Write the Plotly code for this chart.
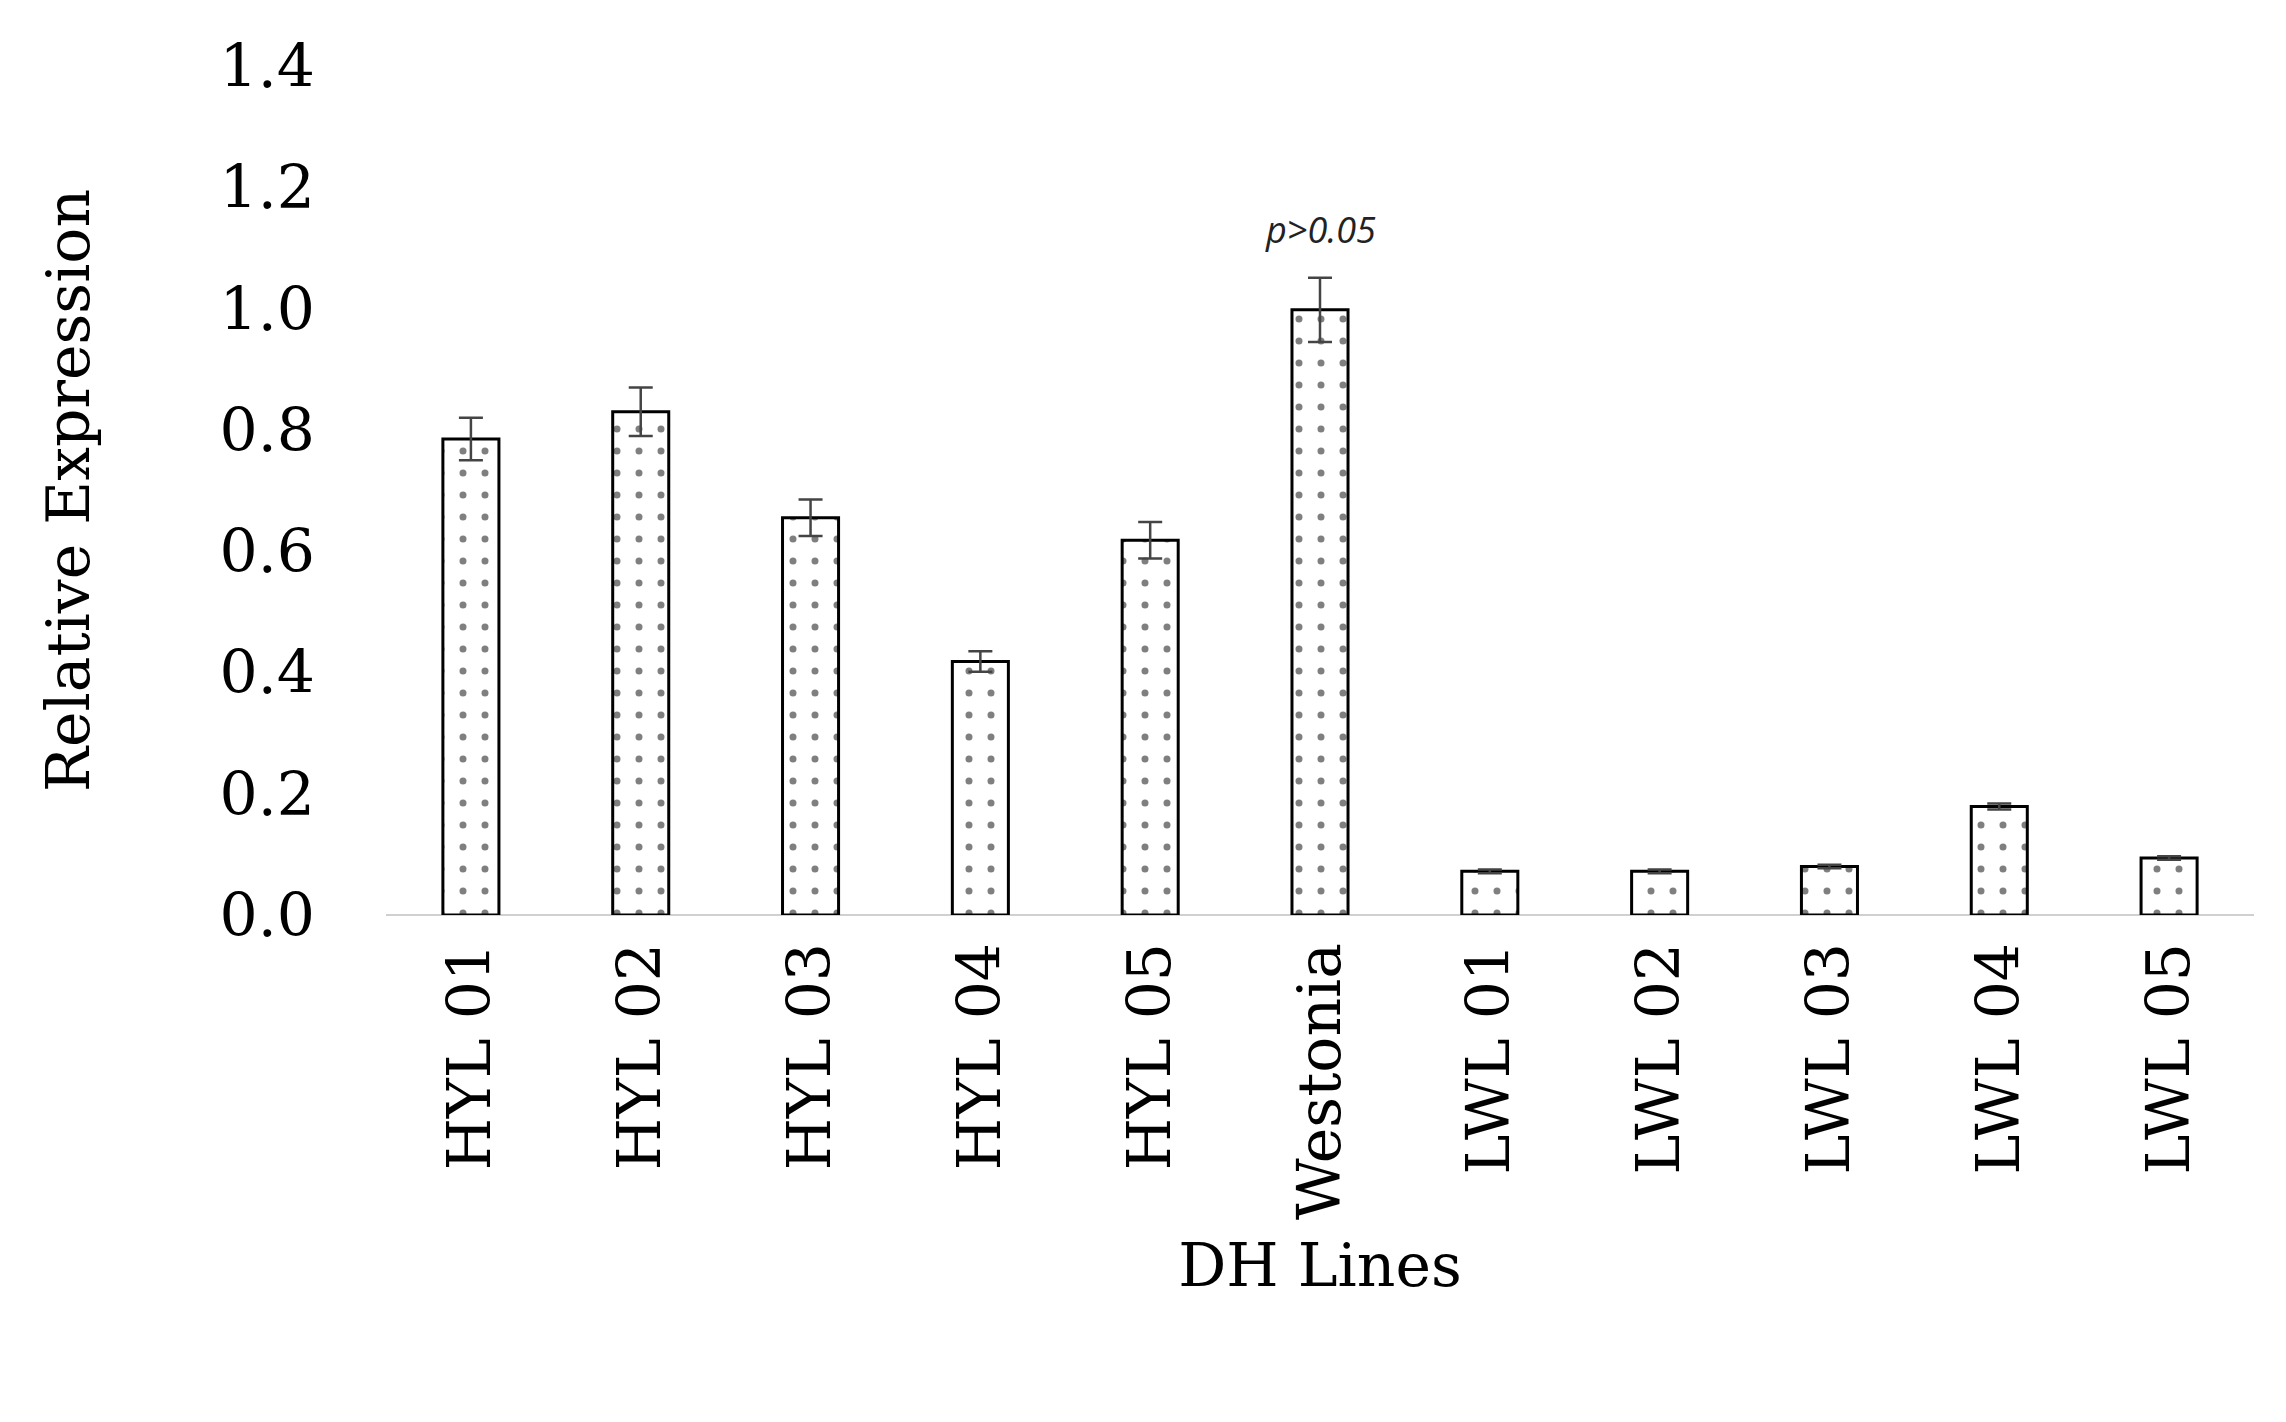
import plotly.graph_objects as go

categories = ["HYL 01","HYL 02","HYL 03","HYL 04","HYL 05","Westonia","LWL 01","LWL 02","LWL 03","LWL 04","LWL 05"]
values = [0.785, 0.83, 0.655, 0.418, 0.618, 0.998, 0.072, 0.072, 0.08, 0.179, 0.094]
errors = [0.035, 0.04, 0.03, 0.017, 0.03, 0.053, 0.003, 0.003, 0.003, 0.005, 0.003]
y_ticks = [0.0, 0.2, 0.4, 0.6, 0.8, 1.0, 1.2, 1.4]

font = "DejaVu Serif"
fig = go.Figure(go.Bar(
    x=categories, y=values,
    error_y=dict(type="data", array=errors, color="#444", thickness=2.5, width=12),
    marker=dict(color="white", line=dict(color="black", width=3),
                pattern=dict(shape=".", fgcolor="black", bgcolor="white", size=22, solidity=0.08)),
    width=0.33,
))
fig.add_annotation(x="Westonia", y=1.13, text="<i>p>0.05</i>", showarrow=False,
                   font=dict(family="Open Sans", size=36, color="#222"))
fig.update_layout(
    width=2286, height=1422, plot_bgcolor="white", paper_bgcolor="white",
    margin=dict(l=378, r=40, t=58, b=515),
    showlegend=False,
    font=dict(family=font, color="black"),
    xaxis=dict(tickangle=-90, tickfont=dict(size=60, family=font), showline=False,
               title=dict(text="DH Lines", font=dict(size=60, family=font), standoff=25),
               ticks="", ticklabelstandoff=15),
    yaxis=dict(range=[0, 1.4], tickvals=y_ticks, ticktext=[f"{v:.1f}" for v in y_ticks],
               tickfont=dict(size=60, family=font), showgrid=False, zeroline=True,
               zerolinecolor="#d0d0d0", zerolinewidth=2, ticklen=0, ticklabelstandoff=70,
               title=dict(text="Relative Expression", font=dict(size=60, family=font), standoff=110)),
)
fig.write_html("out.html")
